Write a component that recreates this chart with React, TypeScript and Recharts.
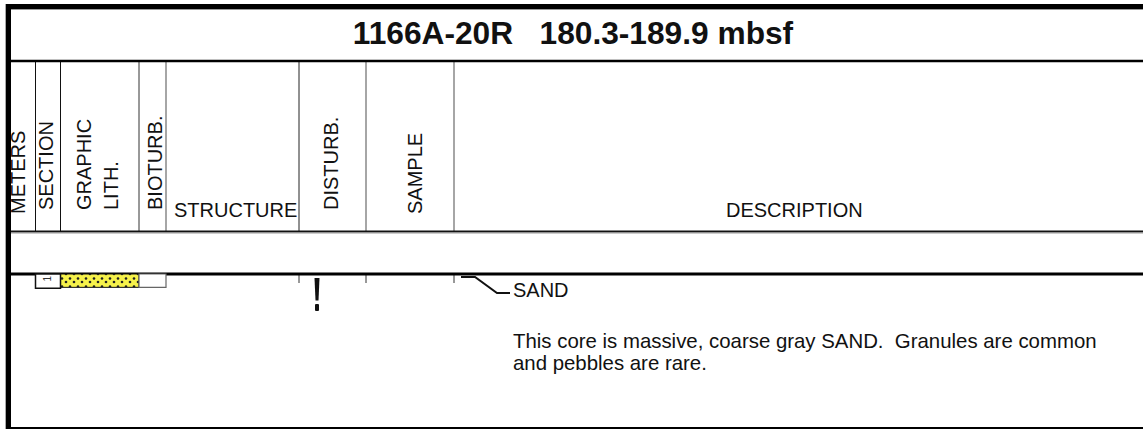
/**
 * 岩心描述表 (barrel sheet) 1166A-20R
 * 用 Recharts 的深度坐标绘制岩性、扰动和描述标注
 */
import React from 'react';
import { ComposedChart, XAxis, YAxis, Scatter, ReferenceArea, Customized } from 'recharts';

const W = 1143;
const H = 429;
const FONT = 'Liberation Sans, Arial, Helvetica, sans-serif';

// ---- 数据 ----
const coreTitle = '1166A-20R   180.3-189.9 mbsf';
const sections = [{ name: '1', top: 0, bottom: 0.14 }];
const lithology = [{ name: 'SAND', top: 0, bottom: 0.13 }];
const bioturbation = [{ top: 0, bottom: 0.13 }];
const disturbance = [{ depth: 0.2, kind: 'fractured' }];
const descLabels = [{ depth: 0, label: 'SAND' }];
const descText = [
    'This core is massive, coarse gray SAND.  Granules are common',
    'and pebbles are rare.'
];

// ---- 版面 ----
const colEdges = [11, 35.5, 60.5, 139, 166, 299, 366, 454, W];
const depthDomain: [number, number] = [0, 1.5];
const bodyTop = 274;
const headTop = 62;
const headBottom = 231;

const dividerStyle = ['#111', '#111', '#333', '#888', '#222', '#888', '#888'];

const rotatedLabels = [
    { text: 'METERS', x: 25, y: 214 },
    { text: 'SECTION', x: 53, y: 210 },
    { text: 'GRAPHIC', x: 90.5, y: 210 },
    { text: 'LITH.', x: 118, y: 210 },
    { text: 'BIOTURB.', x: 161.5, y: 210 },
    { text: 'DISTURB.', x: 338, y: 210 },
    { text: 'SAMPLE', x: 422, y: 214 }
];
const flatLabels = [
    { text: 'STRUCTURE', x: 174, y: 217 },
    { text: 'DESCRIPTION', x: 726, y: 217 }
];

function SheetHeader() {
    return (
        <g fontFamily={FONT}>
            <defs>
                <pattern id="sandDots" width={8} height={8} patternUnits="userSpaceOnUse">
                    <rect width={8} height={8} fill="#f6f24a" />
                    <circle cx={2} cy={2} r={1.3} fill="#222" />
                    <circle cx={6} cy={6.5} r={1.3} fill="#222" />
                </pattern>
            </defs>
            <text x={573} y={44} textAnchor="middle" fontSize={31.7} fontWeight="bold" fill="#111"
                style={{ whiteSpace: 'pre' }}>{coreTitle}</text>
            {colEdges.slice(1, 8).map((x, i) => (
                <line key={i} x1={x} x2={x} y1={headTop} y2={headBottom}
                    stroke={dividerStyle[i]} strokeWidth={dividerStyle[i] === '#888' ? 1.5 : 1} />
            ))}
            {rotatedLabels.map((l) => (
                <text key={l.text} transform={`translate(${l.x},${l.y}) rotate(-90)`}
                    fontSize={20} fill="#111">{l.text}</text>
            ))}
            {flatLabels.map((l) => (
                <text key={l.text} x={l.x} y={l.y} fontSize={20} fill="#111">{l.text}</text>
            ))}
            {/* 剖面顶部的短刻度 */}
            {colEdges.slice(5, 8).map((x, i) => (
                <line key={'t' + i} x1={x} x2={x} y1={bodyTop} y2={283} stroke="#333" strokeWidth={1} />
            ))}
        </g>
    );
}

function SheetFrame() {
    return (
        <g>
            <rect x={6} y={4} width={W - 6} height={5} fill="#000" />
            <line x1={11} x2={W} y1={9.5} y2={9.5} stroke="#999" strokeWidth={1} />
            <line x1={11} x2={W} y1={61} y2={61} stroke="#000" strokeWidth={2.5} />
            <line x1={11} x2={W} y1={231.5} y2={231.5} stroke="#111" strokeWidth={2} />
            <line x1={11} x2={W} y1={233} y2={233} stroke="#999" strokeWidth={1} />
            <line x1={11} x2={W} y1={bodyTop} y2={bodyTop} stroke="#000" strokeWidth={3} />
            <line x1={6} x2={W} y1={428} y2={428} stroke="#000" strokeWidth={2} />
            <line x1={5.5} x2={5.5} y1={4} y2={H} stroke="#aaa" strokeWidth={1} />
            <rect x={6} y={4} width={5} height={H - 4} fill="#000" />
        </g>
    );
}

function DisturbShape(props: any) {
    const { cx, cy } = props;
    return (
        <g>
            <polygon points={`${cx - 2.5},${cy - 16.5} ${cx + 2.5},${cy - 16.5} ${cx + 1.5},${cy + 6} ${cx - 1.5},${cy + 6}`} fill="#111" />
            <rect x={cx - 2} y={cy + 9.5} width={4} height={7} rx={1} fill="#111" />
        </g>
    );
}

function DescLabelShape(props: any) {
    const { cx, cy, payload } = props;
    return (
        <g fontFamily={FONT}>
            <polyline points={`${cx + 7},${cy + 3} ${cx + 21},${cy + 3} ${cx + 43},${cy + 19} ${cx + 56},${cy + 19}`}
                fill="none" stroke="#111" strokeWidth={2} />
            <text x={cx + 59} y={cy + 23} fontSize={20} fill="#111">{payload.label}</text>
            {descText.map((line, i) => (
                <text key={i} x={cx + 59} y={cy + 74 + i * 21.5} fontSize={20.4} fill="#111"
                    style={{ whiteSpace: 'pre' }}>{line}</text>
            ))}
        </g>
    );
}

export default function App() {
    const disturbData = disturbance.map((d) => ({ x: colEdges[5] + 18, depth: d.depth }));
    const labelData = descLabels.map((d) => ({ x: colEdges[7], depth: d.depth, label: d.label }));

    return (
        <div style={{ width: W, height: H, background: '#fff' }}>
            <style>{'body{margin:0}'}</style>
            <ComposedChart width={W} height={H} margin={{ top: bodyTop, right: 0, bottom: H - 428, left: 0 }}>
                <XAxis type="number" dataKey="x" domain={[0, W]} allowDataOverflow hide />
                <YAxis type="number" dataKey="depth" domain={depthDomain} allowDataOverflow reversed hide />
                <Customized component={<SheetHeader />} />
                {lithology.map((l) => (
                    <ReferenceArea key={l.name} x1={colEdges[2]} x2={colEdges[3]} y1={l.top} y2={l.bottom}
                        fill="url(#sandDots)" fillOpacity={1} stroke="#111" strokeWidth={1} />
                ))}
                {sections.map((s) => (
                    <ReferenceArea key={s.name} x1={colEdges[1]} x2={colEdges[2]} y1={s.top} y2={s.bottom}
                        fill="#fff" fillOpacity={1} stroke="#111" strokeWidth={1.5}
                        label={{
                            content: (p: any) => {
                                const vb = p.viewBox || {};
                                return (
                                    <text transform={`translate(${vb.x + vb.width / 2 + 3},${vb.y + 2}) rotate(-90)`}
                                        textAnchor="end" fontSize={10} fontFamily={FONT} fill="#333">{s.name}</text>
                                );
                            }
                        }} />
                ))}
                {bioturbation.map((b, i) => (
                    <ReferenceArea key={'b' + i} x1={colEdges[3]} x2={colEdges[4]} y1={b.top} y2={b.bottom}
                        fill="#fff" fillOpacity={1} stroke="#666" strokeWidth={1.2} />
                ))}
                <Scatter data={disturbData} shape={<DisturbShape />} isAnimationActive={false} />
                <Scatter data={labelData} shape={<DescLabelShape />} isAnimationActive={false} />
                <Customized component={<SheetFrame />} />
            </ComposedChart>
        </div>
    );
}
